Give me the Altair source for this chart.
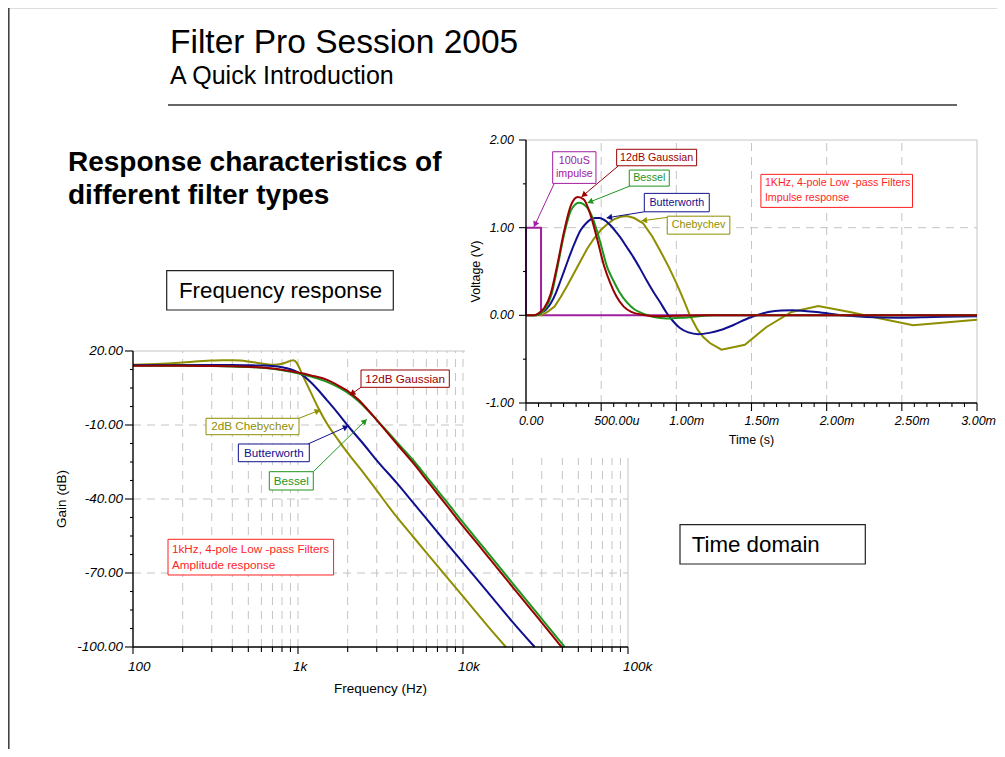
import math
import altair as alt
import pandas as pd

FONT = "Liberation Sans"

# ------------------------------------------------------------------
# Frequency response  (frequency in Hz, gain in dB)
# ------------------------------------------------------------------
gauss_freq_hz = [100, 200, 300, 400, 500, 600, 700, 800, 1000, 1200, 1500, 1800, 2000, 2300, 2600,
                 3000, 3500, 4000, 5000, 6000, 7000, 8000, 10000, 13000, 16000, 20000, 25000, 30000, 35000, 39600]
gauss_gain_db = [14.0, 14.0, 13.9, 13.8, 13.6, 13.3, 12.9, 12.4, 11.3, 10.1, 8.3, 5.6, 3.8, 0.5, -3.2,
                 -8.0, -13.3, -17.9, -25.5, -32.2, -37.9, -42.8, -51.0, -60.3, -67.7, -75.7, -83.6, -90.1, -95.6, -100.0]

bessel_freq_hz = [100, 200, 300, 400, 500, 600, 700, 800, 1000, 1200, 1500, 1800, 2000, 2300, 2600,
                  3000, 3500, 4000, 5000, 6000, 7000, 8000, 10000, 13000, 16000, 20000, 25000, 30000, 35000, 41300]
bessel_gain_db = [14.0, 14.0, 13.9, 13.7, 13.5, 13.2, 12.8, 12.2, 11.0, 9.6, 7.5, 4.9, 3.1, -0.1, -3.5,
                  -7.9, -12.8, -17.2, -24.4, -30.9, -36.5, -41.3, -49.5, -58.8, -66.2, -74.2, -82.1, -88.6, -94.1, -100.0]

butter_freq_hz = [100, 200, 300, 400, 500, 600, 700, 800, 900, 1000, 1100, 1200, 1300, 1500, 1700,
                  2000, 2500, 3000, 4000, 5000, 7000, 10000, 15000, 20000, 27200]
butter_gain_db = [14.3, 14.3, 14.3, 14.3, 14.2, 14.1, 13.9, 13.4, 12.6, 11.3, 9.5, 7.2, 4.8, 0.0, -4.3,
                  -10.2, -17.8, -24.3, -33.8, -41.6, -53.4, -65.8, -79.9, -89.9, -100.0]

cheby_freq_hz = [100, 150, 200, 250, 300, 350, 400, 450, 500, 550, 600, 650, 700, 750, 800, 850, 900, 940,
                 980, 1000, 1050, 1100, 1200, 1330, 1500, 1750, 2000, 2500, 3000, 3500, 4000, 5000, 7000,
                 10000, 14000, 18200]
cheby_gain_db = [14.4, 14.8, 15.3, 15.8, 16.1, 16.3, 16.3, 16.1, 15.7, 15.3, 14.9, 14.6, 14.4, 14.5, 14.8, 15.4, 16.0, 16.3,
                 15.3, 14.3, 11.2, 8.3, 3.0, -3.2, -9.5, -16.0, -21.3, -29.5, -36.5, -42.6, -47.6, -55.4, -67.1,
                 -79.5, -91.2, -100.0]

# ------------------------------------------------------------------
# Impulse response  (time in ms, voltage in V)
# ------------------------------------------------------------------
impulse_time_ms = [0, 0, 0.1, 0.1, 3.0]
impulse_volt = [0, 1, 1, 0, 0]

gauss_time_ms = [0, 0.05, 0.08, 0.12, 0.165, 0.21, 0.255, 0.30, 0.345, 0.385, 0.43, 0.475, 0.52, 0.56,
                 0.60, 0.65, 0.70, 0.78, 0.88, 1.0, 1.2, 3.0]
gauss_volt = [0, 0, 0.02, 0.08, 0.25, 0.59, 0.97, 1.26, 1.35, 1.32, 1.14, 0.86, 0.56, 0.37,
              0.22, 0.10, 0.04, 0.005, -0.01, -0.005, 0, 0]

bessel_time_ms = [0, 0.06, 0.09, 0.13, 0.17, 0.21, 0.255, 0.30, 0.352, 0.407, 0.452, 0.496, 0.54, 0.58,
                  0.62, 0.67, 0.72, 0.78, 0.85, 0.935, 1.0, 1.07, 1.15, 1.25, 3.0]
bessel_volt = [0, 0, 0.02, 0.08, 0.24, 0.555, 0.935, 1.20, 1.285, 1.23, 1.07, 0.82, 0.55, 0.40,
               0.27, 0.15, 0.07, 0.02, -0.02, -0.035, -0.03, -0.025, -0.01, 0, 0]

butter_time_ms = [0, 0.07, 0.10, 0.135, 0.165, 0.20, 0.231, 0.265, 0.297, 0.33,
                  0.363, 0.40, 0.43, 0.46, 0.49, 0.52, 0.56, 0.60, 0.625, 0.67,
                  0.713, 0.76, 0.802, 0.85, 0.891, 0.935, 0.98, 1.024, 1.08, 1.146,
                  1.22, 1.30, 1.38, 1.49, 1.611, 1.70, 1.777, 1.85, 1.933, 2.11,
                  2.265, 2.487, 2.708, 3.0]
butter_volt = [0, 0, 0.03, 0.07, 0.137, 0.26, 0.40, 0.56, 0.71, 0.85,
               0.97, 1.05, 1.095, 1.11, 1.11, 1.09, 1.03, 0.95, 0.895, 0.78,
               0.667, 0.53, 0.40, 0.26, 0.152, 0.03, -0.07, -0.145, -0.195, -0.215,
               -0.2, -0.165, -0.11, -0.025, 0.038, 0.055, 0.057, 0.05, 0.038, 0.0,
               -0.019, -0.027, -0.019, -0.01]

cheby_time_ms = [0, 0.10, 0.143, 0.19, 0.231, 0.275, 0.319, 0.363, 0.407, 0.45,
                 0.496, 0.54, 0.584, 0.63, 0.672, 0.72, 0.78, 0.84, 0.891, 0.95,
                 1.002, 1.05, 1.09, 1.14, 1.179, 1.223, 1.30, 1.456, 1.60, 1.767,
                 1.944, 2.154, 2.309, 2.575, 3.0]
cheby_volt = [0, 0, 0.04, 0.10, 0.21, 0.34, 0.48, 0.62, 0.76, 0.87,
              0.97, 1.04, 1.095, 1.125, 1.133, 1.11, 1.048, 0.90, 0.743, 0.55,
              0.362, 0.17, 0.0, -0.16, -0.248, -0.316, -0.392, -0.335, -0.133, 0.038,
              0.107, 0.038, -0.019, -0.114, -0.05]

# ------------------------------------------------------------------
# Ticks, tick labels, grid lines, series
# ------------------------------------------------------------------
freq_major_hz = [100, 1000, 10000, 100000]
freq_tick_labels = ["100", "1k", "10k", "100k"]
freq_minor_hz = [m * 10 ** e for e in (2, 3, 4) for m in range(2, 10)]
gain_major_db = [-100, -70, -40, -10, 20]
gain_tick_labels = ["-100.00", "-70.00", "-40.00", "-10.00", "20.00"]
gain_minor_db = [g + 7.5 * k for g in (-100, -70, -40, -10) for k in (1, 2, 3)]

time_major_ms = [0, 0.5, 1.0, 1.5, 2.0, 2.5, 3.0]
time_tick_labels = ["0.00", "500.00u", "1.00m", "1.50m", "2.00m", "2.50m", "3.00m"]
time_minor_ms = [round(i / 12, 6) for i in range(37) if i % 6 != 0]
volt_major_v = [-1, 0, 1, 2]
volt_tick_labels = ["-1.00", "0.00", "1.00", "2.00"]
volt_minor_v = [-0.5, 0.5, 1.5]

freq_grid_hz = [m * 10 ** e for e in (2, 3, 4) for m in range(1, 10)][1:]
gain_grid_db = [-70, -40, -10]
time_grid_ms = [0.5, 1.0, 1.5, 2.0, 2.5]
volt_grid_v = [0.0, 1.0]

series_names = ["12dB Gaussian", "Bessel", "Butterworth", "Chebychev", "100uS impulse", "Note"]
series_colors = ["#990000", "#1c961c", "#10108f", "#8e8e00", "#a020a0", "#ff1f1f"]

# annotations (data units): series, label, x0, x1, y0, y1
freq_boxes = [
    ("12dB Gaussian", "12dB Gaussian", 2409, 8260, 5.28, 12.30),
    ("Chebychev", "2dB Chebychev", 277, 1014, -13.93, -7.28),
    ("Butterworth", "Butterworth", 435, 1171, -24.88, -17.70),
    ("Bessel", "Bessel", 670, 1238, -36.35, -28.93),
]
freq_note = ("Note", "1kHz, 4-pole Low -pass Filters\nAmplitude response", 163, 1643, -70.81, -56.34)
freq_arrows = [
    ("12dB Gaussian", 2409, 5.28, 2066, 2.16),
    ("Chebychev", 1014, -7.28, 1360, -3.92),
    ("Butterworth", 1150, -17.70, 2017, -10.41),
    ("Bessel", 1238, -28.93, 2609, -7.69),
]
time_boxes = [
    ("100uS impulse", "100uS\nimpulse", 0.1775, 0.4654, 1.505, 1.866),
    ("12dB Gaussian", "12dB Gaussian", 0.603, 1.135, 1.706, 1.894),
    ("Bessel", "Bessel", 0.687, 0.953, 1.474, 1.657),
    ("Butterworth", "Butterworth", 0.787, 1.219, 1.181, 1.391),
    ("Chebychev", "Chebychev", 0.9395, 1.356, 0.926, 1.131),
]
time_note = ("Note", "1KHz, 4-pole Low -pass Filters\nImpulse response", 1.5625, 2.571, 1.231, 1.608)
time_arrows = [
    ("100uS impulse", 0.188, 1.505, 0.0532, 1.009),
    ("12dB Gaussian", 0.615, 1.706, 0.370, 1.352),
    ("Bessel", 0.690, 1.474, 0.410, 1.283),
    ("Butterworth", 0.787, 1.181, 0.537, 1.112),
    ("Chebychev", 0.9395, 1.117, 0.769, 1.078),
]

# ------------------------------------------------------------------
# Layout (pixels inside the 989 x 741 view)
# ------------------------------------------------------------------
W, H = 989, 741
FXR = [125, 620]
FYR = [639, 343]
TXR = [518, 969]
TYR = [395, 132]

f_x = alt.Scale(type="log", domain=[100, 100000], range=FXR, nice=False)
f_y = alt.Scale(domain=[-100, 20], range=FYR, nice=False, zero=False)
t_x = alt.Scale(domain=[0, 3], range=TXR, nice=False, zero=False)
t_y = alt.Scale(domain=[-1, 2], range=TYR, nice=False, zero=False)
cscale = alt.Scale(domain=series_names, range=series_colors)


def f_px(v): return FXR[0] + (math.log10(v) - 2) / 3 * (FXR[1] - FXR[0])
def f_inv(p): return 10 ** (2 + 3 * (p - FXR[0]) / (FXR[1] - FXR[0]))
def g_px(v): return FYR[0] + (v + 100) / 120 * (FYR[1] - FYR[0])
def g_inv(p): return -100 + 120 * (p - FYR[0]) / (FYR[1] - FYR[0])
def t_px(v): return TXR[0] + v / 3 * (TXR[1] - TXR[0])
def t_inv(p): return 3 * (p - TXR[0]) / (TXR[1] - TXR[0])
def v_px(v): return TYR[0] + (v + 1) / 3 * (TYR[1] - TYR[0])
def v_inv(p): return -1 + 3 * (p - TYR[0]) / (TYR[1] - TYR[0])


def arrow_frame(rows, xp, xi, yp, yi, back=2.6):
    out = []
    for s, x0, y0, x1, y1 in rows:
        px0, py0, px1, py1 = xp(x0), yp(y0), xp(x1), yp(y1)
        dx, dy = px1 - px0, py1 - py0
        L = math.hypot(dx, dy)
        ux, uy = dx / L, dy / L
        out.append(dict(series=s, x0=x0, y0=y0, x1=x1, y1=y1,
                        hx=xi(px1 - back * ux), hy=yi(py1 - back * uy),
                        angle=math.degrees(math.atan2(dx, -dy)) % 360))
    return pd.DataFrame(out)


def box_frame(rows, logx, yp, yi, lh):
    out = []
    for s, lab, x0, x1, y0, y1 in rows:
        xm = math.sqrt(x0 * x1) if logx else (x0 + x1) / 2
        n = lab.count("\n") + 1
        ym = yi((yp(y0) + yp(y1)) / 2 - (n - 1) * lh / 2)
        out.append(dict(series=s, label=lab, x0=x0, x1=x1, y0=y0, y1=y1, xm=xm, ym=ym))
    return pd.DataFrame(out)


GRID = "#c4c4c4"
DASH = [8, 6]
colr = alt.Color("series:N", scale=cscale, legend=None)
strk = alt.Stroke("series:N", scale=cscale, legend=None)


def curve(xs, ys, name, xscale, yscale, interp="monotone"):
    df = pd.DataFrame({"x": xs, "y": ys, "series": name, "i": range(len(xs))})
    return alt.Chart(df).mark_line(strokeWidth=2, interpolate=interp).encode(
        x=alt.X("x:Q", scale=xscale, axis=None),
        y=alt.Y("y:Q", scale=yscale, axis=None),
        color=colr, order="i:Q")


def rules(df, xs, ys, color, width=1.0, dash=None):
    props = dict(color=color, strokeWidth=width)
    if dash:
        props["strokeDash"] = dash
    return alt.Chart(df).mark_rule(**props).encode(
        x=alt.X("x0:Q", scale=xs, axis=None), x2="x1:Q",
        y=alt.Y("y0:Q", scale=ys, axis=None), y2="y1:Q")


def tick_rules(xvals, yvals, xs, ys, x_at, y_at, x_end, y_end, width=1.1):
    # x ticks: (x, y_at) -> (x, y_end);  y ticks: (x_at, y) -> (x_end, y)
    df = pd.DataFrame({
        "x0": list(xvals) + [x_at] * len(yvals),
        "x1": list(xvals) + [x_end] * len(yvals),
        "y0": [y_at] * len(xvals) + list(yvals),
        "y1": [y_end] * len(xvals) + list(yvals),
    })
    return rules(df, xs, ys, "black", width)


def text_layer(df, xs, ys, xcol, ycol, **props):
    base = dict(font=FONT, color="black")
    base.update(props)
    return alt.Chart(df).mark_text(**base).encode(
        x=alt.X(f"{xcol}:Q", scale=xs, axis=None), y=alt.Y(f"{ycol}:Q", scale=ys, axis=None),
        text="lab:N")


def axis_layers(xs, ys, x_lo, x_hi, y_lo, y_hi, x_major, x_labels, y_major, y_labels,
                x_minor, y_minor, ytick_x_major, xtick_y_major, ytick_x_minor, xtick_y_minor,
                xlab_dx, xlab_dy, ylab_dx, lab_size, x_title, x_title_pos, x_title_dy,
                y_title, y_title_pos, title_size, last_label_dx=None):
    domain = rules(pd.DataFrame({"x0": [x_lo, x_lo], "x1": [x_hi, x_lo],
                                 "y0": [y_lo, y_lo], "y1": [y_lo, y_hi]}), xs, ys, "black", 1.4)
    major = tick_rules(x_major, y_major, xs, ys, x_lo, y_lo, ytick_x_major, xtick_y_major)
    minor = tick_rules(x_minor, y_minor, xs, ys, x_lo, y_lo, ytick_x_minor, xtick_y_minor)
    lab_props = dict(baseline="top", dy=xlab_dy, fontSize=lab_size, fontStyle="italic")
    xdf = pd.DataFrame({"v": x_major, "lab": x_labels, "base": y_lo})
    layers = [domain, major, minor]
    if last_label_dx is None:
        layers.append(text_layer(xdf, xs, ys, "v", "base", align="left", dx=xlab_dx, **lab_props))
    else:
        layers.append(text_layer(xdf.iloc[:-1], xs, ys, "v", "base", align="left", dx=xlab_dx, **lab_props))
        layers.append(text_layer(xdf.iloc[-1:], xs, ys, "v", "base", align="right", dx=last_label_dx, **lab_props))
    ydf = pd.DataFrame({"v": y_major, "lab": y_labels, "base": x_lo})
    layers.append(text_layer(ydf, xs, ys, "base", "v", align="right", baseline="middle", dx=ylab_dx,
                             fontSize=lab_size, fontStyle="italic"))
    layers.append(text_layer(pd.DataFrame({"lab": [x_title], "x": [x_title_pos], "y": [y_lo]}),
                             xs, ys, "x", "y", align="center", baseline="middle", dy=x_title_dy,
                             fontSize=title_size))
    layers.append(text_layer(pd.DataFrame({"lab": [y_title], "x": [y_title_pos[0]], "y": [y_title_pos[1]]}),
                             xs, ys, "x", "y", align="center", baseline="middle", angle=270,
                             fontSize=title_size))
    return layers


def annot_layers(boxes, note, arrows, xs, ys, fsize, lh, note_lh):
    bdf = pd.concat([boxes, note], ignore_index=True)
    rects = alt.Chart(bdf).mark_rect(fill="white", strokeWidth=1).encode(
        x=alt.X("x0:Q", scale=xs, axis=None), x2="x1:Q",
        y=alt.Y("y0:Q", scale=ys, axis=None), y2="y1:Q", stroke=strk)
    texts = alt.Chart(boxes).mark_text(align="center", baseline="middle", fontSize=fsize, font=FONT,
                                       lineBreak="\n", lineHeight=lh).encode(
        x=alt.X("xm:Q", scale=xs, axis=None), y=alt.Y("ym:Q", scale=ys, axis=None),
        text="label:N", color=colr)
    ntext = alt.Chart(note).mark_text(align="left", baseline="middle", dx=4, fontSize=fsize, font=FONT,
                                      lineBreak="\n", lineHeight=note_lh).encode(
        x=alt.X("x0:Q", scale=xs, axis=None), y=alt.Y("ym:Q", scale=ys, axis=None),
        text="label:N", color=colr)
    lines = alt.Chart(arrows).mark_rule(strokeWidth=1).encode(
        x=alt.X("x0:Q", scale=xs, axis=None), x2="x1:Q",
        y=alt.Y("y0:Q", scale=ys, axis=None), y2="y1:Q", color=colr)
    heads = alt.Chart(arrows).mark_point(shape="triangle-up", filled=True, size=42, opacity=1).encode(
        x=alt.X("hx:Q", scale=xs, axis=None), y=alt.Y("hy:Q", scale=ys, axis=None),
        angle=alt.Angle("angle:Q", scale=None), color=colr)
    return [lines, rects, texts, ntext, heads]


# ---------------- frequency chart ----------------
f_vgrid = rules(pd.DataFrame({"x0": freq_grid_hz, "x1": freq_grid_hz, "y0": -100, "y1": 20}),
                f_x, f_y, GRID, 1, DASH)
f_hgrid = rules(pd.DataFrame({"x0": 100, "x1": 100000, "y0": gain_grid_db, "y1": gain_grid_db}),
                f_x, f_y, GRID, 1, DASH)
f_frame = rules(pd.DataFrame({"x0": [100, 100000], "x1": [100000, 100000],
                              "y0": [20, -100], "y1": [20, 20]}), f_x, f_y, GRID, 1)
f_axes = axis_layers(
    f_x, f_y, 100, 100000, -100, 20,
    freq_major_hz, freq_tick_labels, gain_major_db, gain_tick_labels,
    freq_minor_hz, gain_minor_db,
    f_inv(FXR[0] - 8), g_inv(FYR[0] + 7), f_inv(FXR[0] - 3), g_inv(FYR[0] + 5),
    -5, 13, -10, 13.5,
    "Frequency (Hz)", math.sqrt(100 * 100000), 42,
    "Gain (dB)", (f_inv(54), -40), 13.5)

freq_layers = [f_vgrid, f_hgrid, f_frame,
               curve(cheby_freq_hz, cheby_gain_db, "Chebychev", f_x, f_y),
               curve(butter_freq_hz, butter_gain_db, "Butterworth", f_x, f_y),
               curve(bessel_freq_hz, bessel_gain_db, "Bessel", f_x, f_y),
               curve(gauss_freq_hz, gauss_gain_db, "12dB Gaussian", f_x, f_y)]
freq_layers += f_axes
freq_layers += annot_layers(box_frame(freq_boxes, True, g_px, g_inv, 14),
                            box_frame([freq_note], True, g_px, g_inv, 15.5),
                            arrow_frame(freq_arrows, f_px, f_inv, g_px, g_inv),
                            f_x, f_y, 11.7, 14, 15.5)
freq_chart = alt.layer(*freq_layers)

# ---------------- time chart ----------------
panel = alt.Chart(pd.DataFrame({"x0": [t_inv(457)], "x1": [t_inv(995)],
                                "y0": [v_inv(450)], "y1": [v_inv(117)]})).mark_rect(
    fill="white").encode(
    x=alt.X("x0:Q", scale=t_x, axis=None), x2="x1:Q",
    y=alt.Y("y0:Q", scale=t_y, axis=None), y2="y1:Q")
t_vgrid = rules(pd.DataFrame({"x0": time_grid_ms, "x1": time_grid_ms, "y0": -1, "y1": 2}),
                t_x, t_y, GRID, 1, DASH)
t_hgrid = rules(pd.DataFrame({"x0": 0, "x1": 3, "y0": volt_grid_v, "y1": volt_grid_v}),
                t_x, t_y, GRID, 1, DASH)
t_frame = rules(pd.DataFrame({"x0": [0, 3], "x1": [3, 3], "y0": [2, -1], "y1": [2, 2]}),
                t_x, t_y, GRID, 1)
t_axes = axis_layers(
    t_x, t_y, 0, 3, -1, 2,
    time_major_ms, time_tick_labels, volt_major_v, volt_tick_labels,
    time_minor_ms, volt_minor_v,
    t_inv(TXR[0] - 7), v_inv(TYR[0] + 8), t_inv(TXR[0] - 3), v_inv(TYR[0] + 4),
    -7, 11.5, -12, 12.5,
    "Time (s)", 1.5, 37,
    "Voltage (V)", (t_inv(468), 0.5), 12.5, last_label_dx=W - TXR[1] - 1)

time_layers = [panel, t_vgrid, t_hgrid, t_frame,
               curve(impulse_time_ms, impulse_volt, "100uS impulse", t_x, t_y, "linear"),
               curve(cheby_time_ms, cheby_volt, "Chebychev", t_x, t_y, "linear"),
               curve(butter_time_ms, butter_volt, "Butterworth", t_x, t_y),
               curve(bessel_time_ms, bessel_volt, "Bessel", t_x, t_y),
               curve(gauss_time_ms, gauss_volt, "12dB Gaussian", t_x, t_y)]
time_layers += t_axes
time_layers += annot_layers(box_frame(time_boxes, False, v_px, v_inv, 13.5),
                            box_frame([time_note], False, v_px, v_inv, 15),
                            arrow_frame(time_arrows, t_px, t_inv, v_px, v_inv),
                            t_x, t_y, 10.7, 13.5, 15)
time_chart = alt.layer(*time_layers)

# ---------------- slide decoration ----------------
one = pd.DataFrame({"k": [0]})


def slide_text(txt, x, y, size, weight="normal", baseline="alphabetic", lh=None):
    props = dict(align="left", baseline=baseline, fontSize=size, fontWeight=weight, font=FONT,
                 color="black", lineBreak="\n")
    if lh:
        props["lineHeight"] = lh
    return alt.Chart(pd.DataFrame({"text": [txt]})).mark_text(**props).encode(
        x=alt.value(x), y=alt.value(y), text="text:N")


def slide_rule(x0, x1, y0, y1, color, width):
    return alt.Chart(one).mark_rule(color=color, strokeWidth=width).encode(
        x=alt.value(x0), x2=alt.value(x1), y=alt.value(y0), y2=alt.value(y1))


def slide_box(x0, x1, y0, y1):
    return alt.Chart(one).mark_rect(fill="white", stroke="#222222", strokeWidth=1.2).encode(
        x=alt.value(x0), x2=alt.value(x1), y=alt.value(y0), y2=alt.value(y1))


slide = [
    slide_rule(0.8, 0.8, 0, H, "#444444", 1.6),
    slide_text("Filter Pro Session 2005", 162, 45, 33.5),
    slide_text("A Quick Introduction", 162, 76, 25),
    slide_rule(160, 949, 97, 97, "#333333", 1.6),
    slide_text("Response characteristics of\ndifferent filter types", 60, 163, 28, "bold", lh=33),
    slide_box(158.7, 385.3, 262.7, 302),
    slide_text("Frequency response", 171, 282.5, 22.3, baseline="middle"),
    slide_box(672, 857.3, 516.7, 556),
    slide_text("Time domain", 683.7, 536.5, 22.3, baseline="middle"),
]

chart = alt.layer(*slide, freq_chart, time_chart).resolve_scale(
    x="independent", y="independent"
).properties(
    width=W, height=H, padding=0, autosize=alt.AutoSizeParams(type="none")
).configure_view(stroke=None).configure(font=FONT)

chart.save("out.html", embed_options={"renderer": "svg", "actions": False})
